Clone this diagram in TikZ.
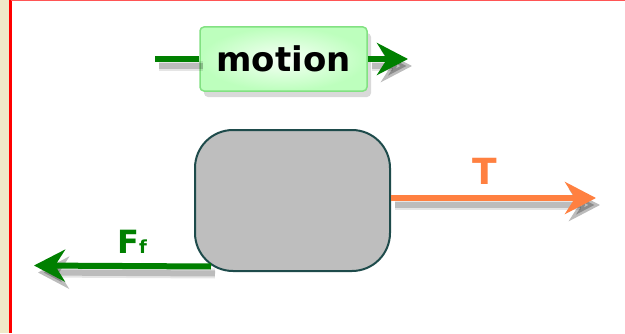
\documentclass[tikz,border=0pt]{standalone}
\usepackage{fontspec}
\setmainfont{DejaVu Sans}
\usetikzlibrary{arrows.meta,shadows}
\definecolor{forcegreen}{RGB}{0,128,0}
\definecolor{tensionorange}{RGB}{255,128,64}
\definecolor{blockedge}{RGB}{30,75,75}
\definecolor{blockgray}{RGB}{190,190,190}
\definecolor{sidebeige}{RGB}{240,233,200}
\definecolor{labeledge}{RGB}{130,225,130}
\definecolor{topred}{RGB}{255,85,85}
\tikzset{
  shadowline/.style={line width=6pt,
    preaction={draw=black, opacity=0.10, line width=10pt, transform canvas={shift={(4pt,-7pt)}}},
    preaction={draw=black, opacity=0.18, line width=6pt, transform canvas={shift={(4pt,-7pt)}}}},
  forcearrow/.style={shadowline, -{Stealth[length=31pt,width=32pt,inset=10pt]}},
  forcelabel/.style={font=\bfseries\fontsize{34}{40}\selectfont}
}
\begin{document}
\begin{tikzpicture}[x=1pt,y=1pt]
\useasboundingbox (0,0) rectangle (625,333);

% Draw the page edge
\fill[sidebeige] (0,0) rectangle (9,333);
\draw[red, line width=2.5pt] (10.25,0) -- (10.25,333);
\draw[topred, line width=1.5pt] (11,332.25) -- (625,332.25);

% Draw the motion label and its arrow
\node[draw=labeledge, line width=1.5pt, rounded corners=4pt, inner color=green!3, outer color=green!26,
  drop shadow={shadow xshift=4pt, shadow yshift=-6pt, opacity=0.3},
  minimum width=167pt, minimum height=64pt, font=\bfseries\fontsize{34}{40}\selectfont] (motion) at (283.5,274) {motion};
\coordinate (motionstart) at (155,274);
\coordinate (motiontip) at (408,274);
\draw[shadowline, draw=forcegreen] (motionstart) -- (motion.west);
\draw[forcearrow, draw=forcegreen] (motion.east) -- (motiontip);

% Draw the block
\node[draw=blockedge, line width=2pt, fill=blockgray, rounded corners=38pt,
  minimum width=195pt, minimum height=141pt] (block) at (292.5,132.5) {};

% Draw the tension
\coordinate (tensiontip) at (596,135);
\draw[forcearrow, draw=tensionorange] ([yshift=2.5pt]block.east) -- (tensiontip);
\node[forcelabel, text=tensionorange, font=\bfseries\fontsize{36}{40}\selectfont] (tension) at (485,162) {T};

% Draw the friction
\coordinate (frictiontip) at (34,67.5);
\draw[forcearrow, draw=forcegreen] ([shift={(17pt,5.5pt)}]block.south west) -- (frictiontip);
\node[forcelabel, text=forcegreen, font=\bfseries\fontsize{32}{40}\selectfont] (friction) at (132,91) {F{\fontsize{18}{20}\selectfont f}};
\end{tikzpicture}
\end{document}
